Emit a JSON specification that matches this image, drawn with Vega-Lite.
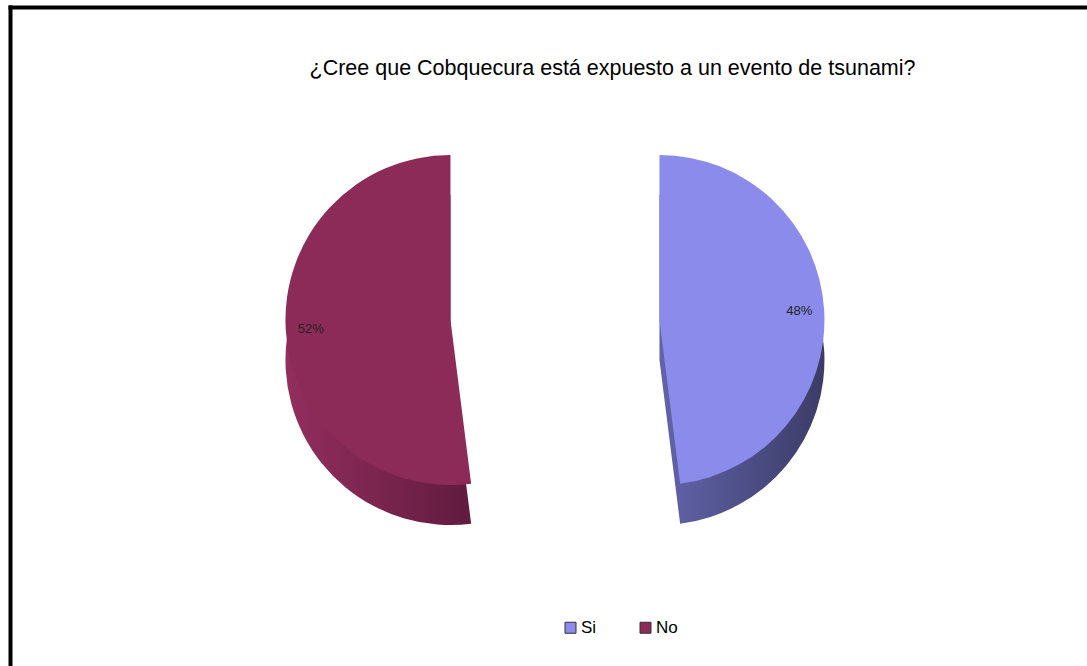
{
  "$schema": "https://vega.github.io/schema/vega-lite/v6.json",
  "width": 1077,
  "height": 659,
  "autosize": {"type": "none"},
  "padding": {"left": 10, "top": 7, "right": 0, "bottom": 0},
  "background": "white",
  "config": {
    "view": {"stroke": null},
    "font": "Liberation Sans"
  },
  "title": {
    "text": "¿Cree que Cobquecura está expuesto a un evento de tsunami?",
    "anchor": "middle",
    "orient": "top",
    "offset": -72,
    "dx": 64,
    "fontSize": 21.5,
    "fontWeight": "normal",
    "font": "Liberation Sans",
    "color": "#000000"
  },
  "data": {
    "values": [
      {"answer": "Si", "value": 48, "label": "48%"},
      {"answer": "No", "value": 52, "label": "52%"}
    ]
  },
  "encoding": {
    "x": {
      "field": "answer",
      "type": "nominal",
      "scale": {"type": "point", "domain": ["No", "Si"], "padding": 1, "align": 0.509},
      "axis": {
        "orient": "top",
        "domain": true,
        "domainColor": "#000000",
        "domainWidth": 4,
        "domainCap": "square",
        "ticks": false,
        "labels": false,
        "grid": false,
        "title": null
      }
    },
    "xOffset": {
      "field": "answer",
      "type": "nominal",
      "scale": {"domain": ["No", "Si"], "range": [150, -150]}
    },
    "y": {
      "datum": "pie",
      "type": "nominal",
      "scale": {"type": "point", "align": 0.475},
      "axis": {
        "orient": "left",
        "domain": true,
        "domainColor": "#000000",
        "domainWidth": 4,
        "domainCap": "square",
        "ticks": false,
        "labels": false,
        "grid": false,
        "title": null
      }
    },
    "theta": {"field": "value", "type": "quantitative", "stack": true},
    "detail": {"field": "answer"},
    "order": {"field": "answer", "sort": "descending"}
  },
  "layer": [
    {
      "mark": {"type": "arc", "outerRadius": 165, "yOffset": 40},
      "encoding": {
        "color": {
          "condition": {
            "test": "datum.answer === 'Si'",
            "value": {
              "gradient": "linear",
              "x1": 0, "y1": 0, "x2": 1, "y2": 0,
              "stops": [
                {"offset": 0, "color": "#6264AA"},
                {"offset": 1, "color": "#3B3C66"}
              ]
            }
          },
          "value": {
            "gradient": "linear",
            "x1": 0, "y1": 0, "x2": 1, "y2": 0,
            "stops": [
              {"offset": 0, "color": "#932E5E"},
              {"offset": 1, "color": "#611B3F"}
            ]
          }
        }
      }
    },
    {
      "mark": {"type": "arc", "outerRadius": 165},
      "encoding": {
        "color": {
          "field": "answer",
          "type": "nominal",
          "scale": {"domain": ["Si", "No"], "range": ["#8A8BEA", "#8C2B58"]},
          "legend": {
            "title": null,
            "orient": "none",
            "legendX": 552,
            "legendY": 612,
            "direction": "horizontal",
            "symbolType": "square",
            "symbolSize": 121,
            "symbolStrokeColor": "#333333",
            "symbolStrokeWidth": 1,
            "labelFontSize": 17,
            "labelFont": "Liberation Sans",
            "labelColor": "#000000",
            "labelOffset": 2,
            "columnPadding": 40
          }
        }
      }
    },
    {
      "mark": {"type": "text", "radius": 140, "fontSize": 13, "color": "#222222", "font": "Liberation Sans"},
      "encoding": {
        "text": {"field": "label", "type": "nominal"}
      }
    }
  ]
}
